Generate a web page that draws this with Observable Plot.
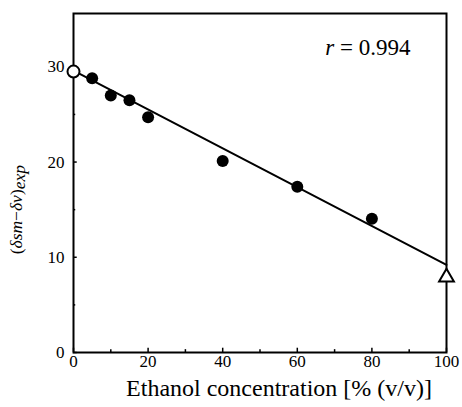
<!DOCTYPE html>
<html>
<head>
<meta charset="utf-8">
<script src="https://cdn.jsdelivr.net/npm/d3@7"></script>
<script src="https://cdn.jsdelivr.net/npm/@observablehq/plot@0.6"></script>
<style>
  html, body { margin: 0; padding: 0; background: #fff; }
</style>
</head>
<body>
<div id="chart"></div>
<script>
// Data
const concentration = [5, 10, 15, 20, 40, 60, 80];
const deltaExp = [28.8, 27.0, 26.5, 24.7, 20.1, 17.4, 14.05];
const waterX = [0];
const waterY = [29.5];
const ethanolX = [100];
const ethanolY = [7.9];
const fitX = [0, 100];
const fitY = [29.6, 9.2];
const xTicks = [0, 20, 40, 60, 80, 100];
const xMinor = [10, 30, 50, 70, 90];
const yTicks = [0, 10, 20, 30];
const yMinor = [5, 15, 25];
const xLabel = "Ethanol concentration [% (v/v)]";
const yLabel = "(δsm−δv)exp";
const rLabel = "r = 0.994";

const FONT = "Liberation Serif";
const FONT_CSS = "'Liberation Serif', 'Times New Roman', Tinos, serif";
const points = concentration.map((c, i) => ({x: c, y: deltaExp[i]}));
const fit = fitX.map((c, i) => ({x: c, y: fitY[i]}));
const water = waterX.map((c, i) => ({x: c, y: waterY[i]}));
const ethanol = ethanolX.map((c, i) => ({x: c, y: ethanolY[i]}));

const chart = Plot.plot({
  width: 462,
  height: 407,
  marginLeft: 73,
  marginRight: 16,
  marginTop: 13,
  marginBottom: 55,
  x: {domain: [0, 100]},
  y: {domain: [0, 35.6]},
  style: "background: #fff; color: #000;",
  marks: [
    Plot.ruleX(xTicks, {x: d => d, y1: 0, y2: 0.45, strokeWidth: 1.5}),
    Plot.ruleX(xMinor, {x: d => d, y1: 0, y2: 0.3, strokeWidth: 1.5}),
    Plot.ruleY(yTicks, {y: d => d, x1: 0, x2: 1.0, strokeWidth: 1.5}),
    Plot.ruleY(yMinor, {y: d => d, x1: 0, x2: 0.6, strokeWidth: 1.5}),
    Plot.frame({strokeWidth: 2}),
    Plot.axisX(xTicks, {tickSize: 0, tickPadding: 2, fontSize: 17, fontFamily: FONT, label: null}),
    Plot.axisY(yTicks, {tickSize: 0, tickPadding: 9, fontSize: 17, fontFamily: FONT, label: null}),
    Plot.line(fit, {x: "x", y: "y", strokeWidth: 2}),
    Plot.dot(points, {x: "x", y: "y", r: 6, fill: "#000", stroke: "none"}),
    Plot.dot(water, {x: "x", y: "y", r: 6, fill: "#fff", stroke: "#000", strokeWidth: 2}),
    Plot.dot(ethanol, {x: "x", y: "y", r: 5.5, symbol: "triangle", fill: "#fff", stroke: "#000", strokeWidth: 2}),
    Plot.text([xLabel], {frameAnchor: "bottom", dx: 19, dy: 43, fontSize: 24, fontFamily: FONT, className: "xlabel"}),
    Plot.text([yLabel], {x: 0, y: 15.0, dx: -57, rotate: -90, fontSize: 17.5, fontFamily: FONT, className: "ylabel"}),
    Plot.text([rLabel], {x: 67.5, y: 32.0, textAnchor: "start", fontSize: 23, fontFamily: FONT, className: "rlabel"})
  ]
});

document.getElementById("chart").appendChild(chart);

// rich styling of texts (kept as real text)
const yl = chart.querySelector(".ylabel text");
if (yl) {
  yl.textContent = "";
  const parts = [
    ["(", "normal", 0], ["δ", "italic", 0], ["sm", "italic", 0], ["−", "normal", 0],
    ["δ", "italic", 0], ["v", "italic", 0], [")", "normal", 0], ["exp", "italic", 3]
  ];
  let prevShift = 0;
  for (const [t, st, sh] of parts) {
    const ts = document.createElementNS("http://www.w3.org/2000/svg", "tspan");
    ts.textContent = t;
    ts.setAttribute("font-style", st);
    if (sh !== prevShift) ts.setAttribute("dy", sh - prevShift);
    prevShift = sh;
    yl.appendChild(ts);
  }
}
const rl = chart.querySelector(".rlabel text");
if (rl) {
  rl.textContent = "";
  const a = document.createElementNS("http://www.w3.org/2000/svg", "tspan");
  a.textContent = "r";
  a.setAttribute("font-style", "italic");
  const b = document.createElementNS("http://www.w3.org/2000/svg", "tspan");
  b.textContent = " = 0.994";
  rl.appendChild(a);
  rl.appendChild(b);
}

chart.style.setProperty("font-family", FONT_CSS, "important");
chart.querySelectorAll("g, text, tspan").forEach(el => {
  el.setAttribute("font-family", FONT);
  el.style.setProperty("font-family", FONT_CSS, "important");
});
</script>
</body>
</html>
